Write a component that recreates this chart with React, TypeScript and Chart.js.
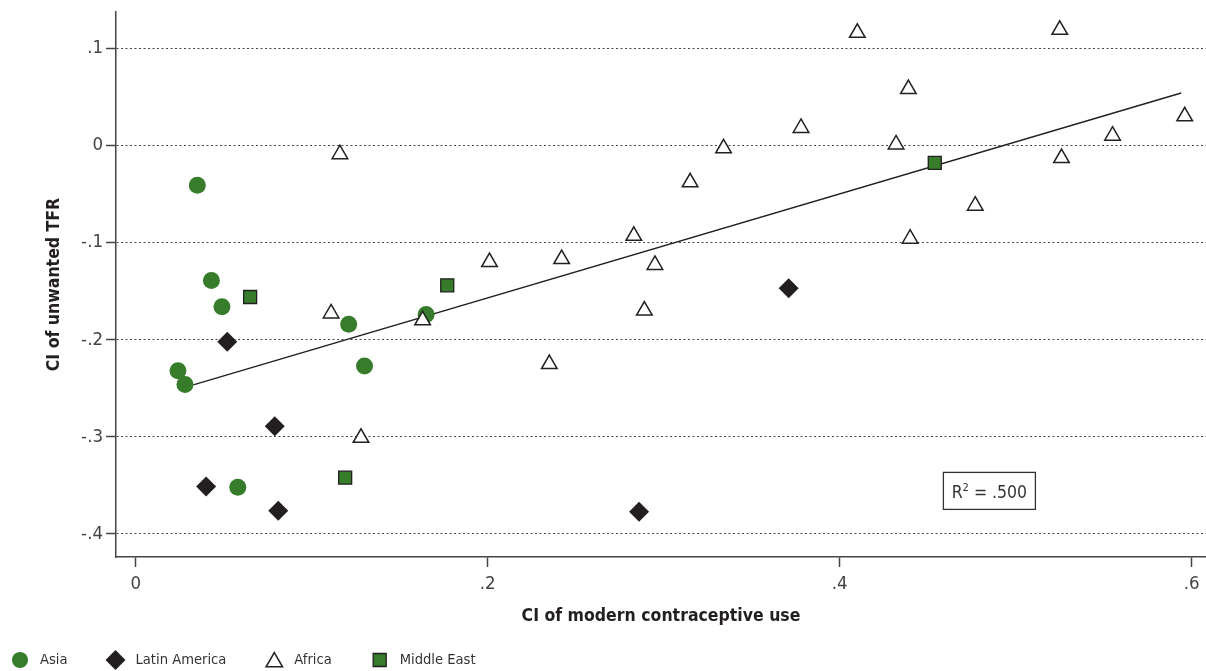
import React, { useEffect, useRef } from "react";
import { Chart, registerables } from "chart.js";

Chart.register(...registerables);

const FONT =
  '"Liberation Sans Narrow", "Arial Narrow", "DejaVu Sans Condensed", "Roboto Condensed", Roboto, sans-serif';

const X_TICKS = [0, 0.2, 0.4, 0.6];
const Y_TICKS = [-0.4, -0.3, -0.2, -0.1, 0, 0.1];
const X_RANGE = [-0.0112, 0.6081];
const Y_RANGE = [-0.4237, 0.1374];

const X_TITLE = "CI of modern contraceptive use";
const Y_TITLE = "CI of unwanted TFR";
const R2_TEXT = ".500";

const ASIA = [
  { x: 0.035, y: -0.041 },
  { x: 0.043, y: -0.139 },
  { x: 0.049, y: -0.166 },
  { x: 0.121, y: -0.184 },
  { x: 0.024, y: -0.232 },
  { x: 0.028, y: -0.246 },
  { x: 0.13, y: -0.227 },
  { x: 0.058, y: -0.352 },
  { x: 0.165, y: -0.174 },
];

const LATIN_AMERICA = [
  { x: 0.052, y: -0.202 },
  { x: 0.079, y: -0.289 },
  { x: 0.04, y: -0.351 },
  { x: 0.081, y: -0.376 },
  { x: 0.286, y: -0.377 },
  { x: 0.371, y: -0.147 },
];

const AFRICA = [
  { x: 0.116, y: -0.009 },
  { x: 0.111, y: -0.173 },
  { x: 0.128, y: -0.301 },
  { x: 0.163, y: -0.18 },
  { x: 0.201, y: -0.12 },
  { x: 0.242, y: -0.117 },
  { x: 0.283, y: -0.093 },
  { x: 0.295, y: -0.123 },
  { x: 0.289, y: -0.17 },
  { x: 0.315, y: -0.038 },
  { x: 0.334, y: -0.003 },
  { x: 0.235, y: -0.225 },
  { x: 0.378, y: 0.018 },
  { x: 0.41, y: 0.116 },
  { x: 0.525, y: 0.119 },
  { x: 0.439, y: 0.058 },
  { x: 0.432, y: 0.001 },
  { x: 0.477, y: -0.062 },
  { x: 0.44, y: -0.096 },
  { x: 0.526, y: -0.013 },
  { x: 0.555, y: 0.01 },
  { x: 0.596, y: 0.03 },
];

const MIDDLE_EAST = [
  { x: 0.065, y: -0.156 },
  { x: 0.119, y: -0.342 },
  { x: 0.177, y: -0.144 },
  { x: 0.454, y: -0.018 },
];

const FIT_LINE = [
  { x: 0.0327, y: -0.2465 },
  { x: 0.594, y: 0.054 },
];

const GREEN = "#377c2b";
const DARK = "#231f20";

function fmt(v: number): string {
  if (Math.abs(v) < 1e-9) return "0";
  return v.toFixed(1).replace("0.", ".");
}

function drawSymbol(
  ctx: CanvasRenderingContext2D,
  style: string,
  x: number,
  y: number,
  r: number,
  fill: string,
  stroke: string,
  bw: number
) {
  ctx.save();
  ctx.beginPath();
  if (style === "circle") {
    ctx.arc(x, y, r, 0, Math.PI * 2);
  } else if (style === "rectRot") {
    ctx.moveTo(x, y - r);
    ctx.lineTo(x + r, y);
    ctx.lineTo(x, y + r);
    ctx.lineTo(x - r, y);
    ctx.closePath();
  } else if (style === "triangle") {
    const h = r * 0.866;
    ctx.moveTo(x, y - r);
    ctx.lineTo(x + h, y + r / 2);
    ctx.lineTo(x - h, y + r / 2);
    ctx.closePath();
  } else {
    const s = r * Math.SQRT1_2;
    ctx.rect(x - s, y - s, 2 * s, 2 * s);
  }
  ctx.fillStyle = fill;
  ctx.fill();
  if (bw > 0) {
    ctx.lineWidth = bw;
    ctx.strokeStyle = stroke;
    ctx.stroke();
  }
  ctx.restore();
}

const overlayPlugin = {
  id: "overlay",
  afterDraw(chart: any) {
    const ctx: CanvasRenderingContext2D = chart.ctx;
    const xs = chart.scales.x;
    const ys = chart.scales.y;

    // R squared box
    const bx = xs.getPixelForValue(0.4589);
    const by = ys.getPixelForValue(-0.3366);
    const bw = 92;
    const bh = 37;
    ctx.save();
    ctx.strokeStyle = "#333";
    ctx.lineWidth = 1.3;
    ctx.strokeRect(bx, by, bw, bh);
    ctx.fillStyle = "#333";
    ctx.textBaseline = "alphabetic";
    ctx.font = `17.5px ${FONT}`;
    const wR = ctx.measureText("R").width;
    const rest = " = " + R2_TEXT;
    const wRest = ctx.measureText(rest).width;
    ctx.font = `11px ${FONT}`;
    const w2 = ctx.measureText("2").width;
    const total = wR + w2 + wRest;
    let tx = bx + (bw - total) / 2;
    const base = by + bh / 2 + 7;
    ctx.font = `17.5px ${FONT}`;
    ctx.fillText("R", tx, base);
    tx += wR;
    ctx.font = `11px ${FONT}`;
    ctx.fillText("2", tx, base - 7);
    tx += w2;
    ctx.font = `17.5px ${FONT}`;
    ctx.fillText(rest, tx, base);
    ctx.restore();

    // Legend
    ctx.save();
    ctx.font = `14.6px ${FONT}`;
    ctx.textBaseline = "middle";
    ctx.fillStyle = "#333";
    const ly = 660;
    let cx = 20;
    chart.data.datasets.forEach((ds: any) => {
      if (!ds.inLegend) return;
      drawSymbol(
        ctx,
        ds.pointStyle,
        cx,
        ly + (ds.pointStyle === "triangle" ? 2 : 0),
        ds.legendRadius,
        ds.backgroundColor,
        ds.borderColor,
        ds.borderWidth
      );
      const tx0 = cx + 20;
      ctx.fillText(ds.label, tx0, ly);
      cx = tx0 + ctx.measureText(ds.label).width + 48;
    });
    ctx.restore();
  },
};

export default function App() {
  const ref = useRef<HTMLCanvasElement | null>(null);

  useEffect(() => {
    if (!ref.current) return;
    const tickFont = { family: FONT, size: 18.5 };
    const titleFont = { family: FONT, size: 17.5, weight: "bold" as const };
    const chart = new Chart(ref.current, {
      type: "scatter",
      data: {
        datasets: [
          {
            label: "Fit",
            data: FIT_LINE,
            showLine: true,
            borderColor: DARK,
            borderWidth: 1.4,
            pointRadius: 0,
            order: 5,
          } as any,
          {
            label: "Asia",
            data: ASIA,
            pointStyle: "circle",
            pointRadius: 8.5,
            backgroundColor: GREEN,
            borderColor: GREEN,
            borderWidth: 0,
            legendRadius: 8,
            inLegend: true,
            order: 4,
          },
          {
            label: "Latin America",
            data: LATIN_AMERICA,
            pointStyle: "rectRot",
            pointRadius: 10,
            backgroundColor: DARK,
            borderColor: DARK,
            borderWidth: 0,
            legendRadius: 10,
            inLegend: true,
            order: 3,
          },
          {
            label: "Africa",
            data: AFRICA,
            pointStyle: "triangle",
            pointRadius: 9,
            backgroundColor: "#ffffff",
            borderColor: DARK,
            borderWidth: 1.5,
            legendRadius: 9.5,
            inLegend: true,
            order: 2,
          },
          {
            label: "Middle East",
            data: MIDDLE_EAST,
            pointStyle: "rect",
            pointRadius: 9.2,
            backgroundColor: GREEN,
            borderColor: DARK,
            borderWidth: 1.3,
            legendRadius: 9.2,
            inLegend: true,
            order: 1,
          },
        ] as any,
      },
      options: {
        animation: false,
        responsive: true,
        maintainAspectRatio: false,
        devicePixelRatio: 1,
        layout: {
          autoPadding: false,
          padding: { top: 12, left: 0, right: 0, bottom: 0 },
        } as any,
        plugins: {
          legend: { display: false },
          tooltip: { enabled: false },
        },
        scales: {
          x: {
            type: "linear",
            min: X_RANGE[0],
            max: X_RANGE[1],
            afterBuildTicks: (s: any) => {
              s.ticks = X_TICKS.map((v) => ({ value: v }));
            },
            afterFit: (s: any) => {
              s.height = 114;
              s.paddingLeft = 0;
              s.paddingRight = 0;
            },
            ticks: {
              callback: (v: any) => fmt(Number(v)),
              font: tickFont,
              color: "#444",
              padding: 6,
              maxRotation: 0,
              autoSkip: false,
            },
            grid: {
              drawOnChartArea: false,
              drawTicks: true,
              tickLength: 10,
              tickColor: "#444",
              tickWidth: 1.5,
            },
            border: { display: true, color: "#444", width: 1.5 },
            title: {
              display: true,
              text: X_TITLE,
              font: titleFont,
              color: DARK,
              padding: { top: 0, bottom: 44 },
            },
          },
          y: {
            type: "linear",
            min: Y_RANGE[0],
            max: Y_RANGE[1],
            afterBuildTicks: (s: any) => {
              s.ticks = Y_TICKS.map((v) => ({ value: v }));
            },
            afterFit: (s: any) => {
              s.width = 116;
              s.paddingTop = 0;
              s.paddingBottom = 0;
            },
            ticks: {
              callback: (v: any) => fmt(Number(v)),
              font: tickFont,
              color: "#444",
              padding: 3,
              autoSkip: false,
            },
            grid: {
              drawOnChartArea: true,
              drawTicks: true,
              color: "#444",
              lineWidth: 1,
              tickBorderDash: [],
              tickLength: 10,
              tickColor: "#444",
              tickWidth: 1.5,
            } as any,
            border: { display: true, color: "#444", width: 1.5, dash: [2, 2.5] } as any,
            title: {
              display: true,
              text: Y_TITLE,
              font: titleFont,
              color: DARK,
              padding: { top: 44, bottom: 0 },
            },
          },
        },
      },
      plugins: [overlayPlugin],
    });
    return () => chart.destroy();
  }, []);

  return (
    <div
      style={{
        position: "absolute",
        left: 0,
        top: 0,
        width: "1206px",
        height: "671px",
        background: "#ffffff",
      }}
    >
      <canvas ref={ref} />
    </div>
  );
}
